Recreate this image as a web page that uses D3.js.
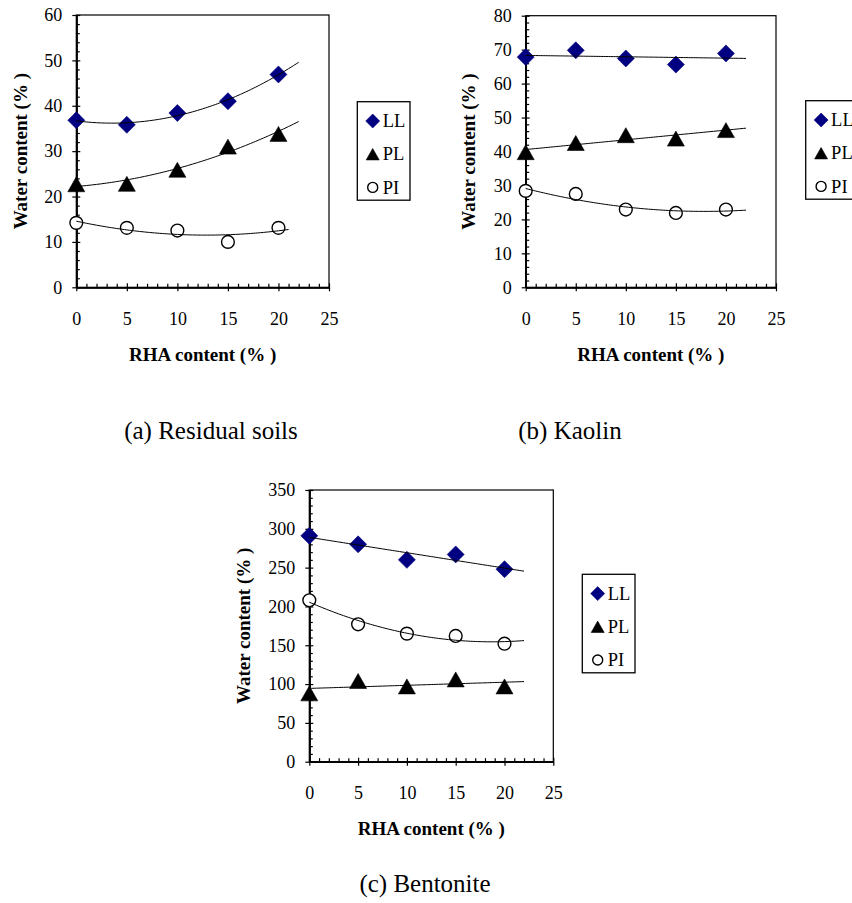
<!DOCTYPE html>
<html>
<head>
<meta charset="utf-8">
<script src="https://cdn.jsdelivr.net/npm/d3@7"></script>
<style>
  body { margin: 0; background: #fff; }
  svg { display: block; }
  svg text { font-family: 'Liberation Serif', Tinos, 'Times New Roman', Times, 'DejaVu Serif', serif !important; fill: #000; }
</style>
</head>
<body>
<svg id="fig" width="852" height="903"></svg>
<script>
// ---- data -------------------------------------------------------------
const rhaContent = [0, 5, 10, 15, 20];
const xTickValues = [0, 5, 10, 15, 20, 25];
const seriesNames = ["LL", "PL", "PI"];

const residualLL = [36.8, 35.8, 38.4, 41.0, 46.9];
const residualPL = [22.7, 22.8, 25.9, 31.0, 33.8];
const residualPI = [14.2, 13.1, 12.5, 10.0, 13.1];

const kaolinLL = [67.8, 69.8, 67.4, 65.6, 68.9];
const kaolinPL = [39.8, 42.5, 44.8, 43.8, 46.3];
const kaolinPI = [28.4, 27.5, 22.9, 21.9, 22.9];

const bentoniteLL = [291, 280, 260, 267, 248];
const bentonitePL = [88, 104, 97, 106, 97];
const bentonitePI = [208, 177, 165, 162, 152];

const captions = ["(a) Residual soils", "(b) Kaolin", "(c) Bentonite"];
const yMaxima = [60, 80, 350];
const yMajorSteps = [10, 10, 50];
const yMinorSteps = [2, 2, 10];
// polynomial order of each trendline and the RHA content where it stops
const trendOrders = [[2, 2, 2], [1, 1, 2], [1, 1, 2]];
const trendEnds = [[22, 22, 21], [22, 22, 22], [22, 22, 22]];

const panelSeries = [
  [residualLL, residualPL, residualPI],
  [kaolinLL, kaolinPL, kaolinPI],
  [bentoniteLL, bentonitePL, bentonitePI]
];

// ---- layout -----------------------------------------------------------
const FONT = "'Liberation Serif', Tinos, 'Times New Roman', Times, 'DejaVu Serif', serif";
const layouts = [
  { left: 76.3, right: 329, top: 15, bottom: 287.3, yTitleX: 26.5,
    legendX: 357.3, legendY: 101.7, capX: 211, capY: 439 },
  { left: 525.7, right: 776, top: 15.7, bottom: 287.3, yTitleX: 474.5,
    legendX: 805.7, legendY: 100.7, capX: 570, capY: 439 },
  { left: 309.3, right: 553.3, top: 490, bottom: 761.7, yTitleX: 249.5,
    legendX: 582.3, legendY: 574.3, capX: 425, capY: 892 }
];

const LL_FILL = "#000080";

// marker shapes (size = half extent in px)
const diamond = { draw(ctx, s) { ctx.moveTo(0, -s); ctx.lineTo(s, 0); ctx.lineTo(0, s); ctx.lineTo(-s, 0); ctx.closePath(); } };
const triangle = { draw(ctx, s) { const h = s * 0.88; ctx.moveTo(0, -h); ctx.lineTo(s, h); ctx.lineTo(-s, h); ctx.closePath(); } };
const ring = { draw(ctx, s) { ctx.moveTo(s, 0); ctx.arc(0, 0, s, 0, 2 * Math.PI); } };

const markerStyles = [
  { type: diamond, size: 8.5, legendSize: 7, fill: LL_FILL, stroke: LL_FILL, sw: 0.6 },
  { type: triangle, size: 8.5, legendSize: 6.5, fill: "#000", stroke: "#000", sw: 0.6 },
  { type: ring, size: 6.4, legendSize: 5, fill: "#fff", stroke: "#000", sw: 1.4 }
];

// least-squares polynomial fit, returns coefficients c0..cn
function polyFit(xs, ys, order) {
  const n = order + 1;
  const A = Array.from({ length: n }, () => new Array(n + 1).fill(0));
  for (let r = 0; r < n; r++) {
    for (let c = 0; c < n; c++) A[r][c] = d3.sum(xs, x => Math.pow(x, r + c));
    A[r][n] = d3.sum(xs, (x, i) => ys[i] * Math.pow(x, r));
  }
  for (let p = 0; p < n; p++) {
    for (let r = p + 1; r < n; r++) {
      const f = A[r][p] / A[p][p];
      for (let c = p; c <= n; c++) A[r][c] -= f * A[p][c];
    }
  }
  const coef = new Array(n).fill(0);
  for (let r = n - 1; r >= 0; r--) {
    let s = A[r][n];
    for (let c = r + 1; c < n; c++) s -= A[r][c] * coef[c];
    coef[r] = s / A[r][r];
  }
  return coef;
}

const svg = d3.select("#fig");
svg.append("rect").attr("width", 852).attr("height", 903).attr("fill", "#fff");

layouts.forEach((L, pi) => {
  const g = svg.append("g");
  const x = d3.scaleLinear().domain([0, 25]).range([L.left, L.right]);
  const y = d3.scaleLinear().domain([0, yMaxima[pi]]).range([L.bottom, L.top]);

  const yMajor = d3.range(0, yMaxima[pi] + 0.001, yMajorSteps[pi]);
  const yMinor = d3.range(0, yMaxima[pi] + 0.001, yMinorSteps[pi]).filter(v => !yMajor.includes(v));
  const xMinor = d3.range(0, 25.001, 1).filter(v => !xTickValues.includes(v));

  // plot frame
  g.append("rect")
    .attr("x", L.left).attr("y", L.top)
    .attr("width", L.right - L.left).attr("height", L.bottom - L.top)
    .attr("fill", "none").attr("stroke", "#000").attr("stroke-width", 1.2);

  const styleAxis = sel => {
    sel.attr("font-family", FONT);
    sel.selectAll("path.domain").attr("stroke", "#000").attr("stroke-width", 1.6);
    sel.selectAll(".tick line").attr("stroke", "#000").attr("stroke-width", 1.2);
    sel.selectAll("text").attr("font-size", 18).attr("fill", "#000").attr("font-family", FONT);
  };

  // y axis: labelled outer ticks, inner major ticks, inner minor ticks
  g.append("g").attr("transform", `translate(${L.left},0)`)
    .call(d3.axisLeft(y).tickValues(yMajor).tickSize(4).tickSizeOuter(0).tickPadding(10).tickFormat(d3.format("d")))
    .call(styleAxis);
  g.append("g").attr("transform", `translate(${L.left},0)`)
    .call(d3.axisLeft(y).tickValues(yMajor).tickSize(-4).tickSizeOuter(0).tickFormat(""))
    .call(styleAxis);
  g.append("g").attr("transform", `translate(${L.left},0)`)
    .call(d3.axisLeft(y).tickValues(yMinor).tickSize(-3.5).tickSizeOuter(0).tickFormat(""))
    .call(styleAxis);

  // x axis
  g.append("g").attr("transform", `translate(0,${L.bottom})`)
    .call(d3.axisBottom(x).tickValues(xTickValues).tickSize(4).tickSizeOuter(0).tickPadding(21).tickFormat(d3.format("d")))
    .call(styleAxis);
  g.append("g").attr("transform", `translate(0,${L.bottom})`)
    .call(d3.axisBottom(x).tickValues(xTickValues).tickSize(-4).tickSizeOuter(0).tickFormat(""))
    .call(styleAxis);
  g.append("g").attr("transform", `translate(0,${L.bottom})`)
    .call(d3.axisBottom(x).tickValues(xMinor).tickSize(-3.5).tickSizeOuter(0).tickFormat(""))
    .call(styleAxis);

  // axis titles
  g.append("text")
    .attr("transform", `translate(${L.yTitleX},${(L.top + L.bottom) / 2}) rotate(-90)`)
    .attr("text-anchor", "middle").attr("font-size", 19).attr("font-weight", "bold")
    .attr("font-family", FONT)
    .text("Water content (% )");
  g.append("text")
    .attr("x", (L.left + L.right) / 2).attr("y", L.bottom + 73.5)
    .attr("text-anchor", "middle").attr("font-size", 19).attr("font-weight", "bold")
    .attr("font-family", FONT)
    .text("RHA content (% )");

  // markers
  panelSeries[pi].forEach((vals, si) => {
    const m = markerStyles[si];
    g.append("g").selectAll("path").data(rhaContent).join("path")
      .attr("transform", (d, i) => `translate(${x(d)},${y(vals[i])})`)
      .attr("d", d3.symbol().type(m.type).size(m.size)())
      .attr("fill", m.fill).attr("stroke", m.stroke).attr("stroke-width", m.sw);
  });

  // fitted trendlines
  panelSeries[pi].forEach((vals, si) => {
    const coef = polyFit(rhaContent, vals, trendOrders[pi][si]);
    const xs = d3.range(0, trendEnds[pi][si] + 0.001, 0.25);
    const pts = xs.map(v => [v, coef.reduce((s, c, k) => s + c * Math.pow(v, k), 0)]);
    g.append("path").datum(pts)
      .attr("d", d3.line().x(d => x(d[0])).y(d => y(d[1])))
      .attr("fill", "none").attr("stroke", "#000").attr("stroke-width", 1);
  });

  // legend
  const lg = g.append("g").attr("transform", `translate(${L.legendX},${L.legendY})`);
  lg.append("rect").attr("width", 52.7).attr("height", 98.5)
    .attr("fill", "#fff").attr("stroke", "#000").attr("stroke-width", 1.3);
  seriesNames.forEach((name, si) => {
    const m = markerStyles[si];
    const cy = 19.3 + si * 33.2;
    lg.append("path").attr("transform", `translate(15.4,${cy})`)
      .attr("d", d3.symbol().type(m.type).size(m.legendSize)())
      .attr("fill", m.fill).attr("stroke", m.stroke).attr("stroke-width", m.sw);
    lg.append("text").attr("x", 25.4).attr("y", cy + 6.3)
      .attr("font-size", 18.5).attr("font-family", FONT).text(name);
  });

  // caption
  svg.append("text").attr("x", L.capX).attr("y", L.capY)
    .attr("text-anchor", "middle").attr("font-size", 25).attr("font-family", FONT)
    .text(captions[pi]);
});
</script>
</body>
</html>
